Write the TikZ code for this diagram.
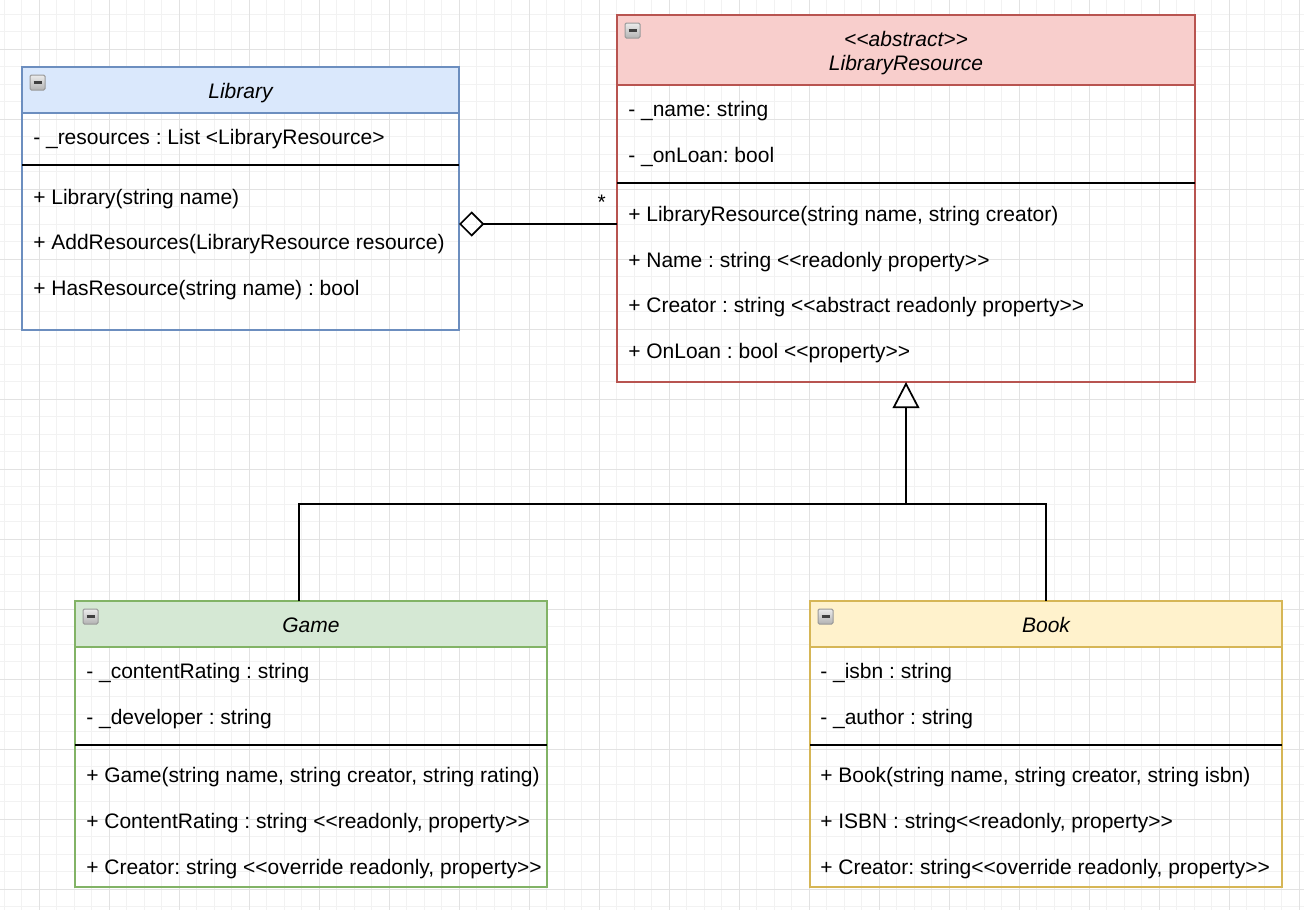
\documentclass[tikz,border=0pt]{standalone}
\usepackage{fontspec}
\setmainfont{Liberation Sans}
\usetikzlibrary{arrows.meta,fit}
\definecolor{libF}{HTML}{DAE8FC}\definecolor{libS}{HTML}{6C8EBF}
\definecolor{resF}{HTML}{F8CECC}\definecolor{resS}{HTML}{B85450}
\definecolor{gamF}{HTML}{D5E8D4}\definecolor{gamS}{HTML}{82B366}
\definecolor{bokF}{HTML}{FFF2CC}\definecolor{bokS}{HTML}{D6B656}
\definecolor{gridminor}{HTML}{F2F2F2}\definecolor{gridmajor}{HTML}{E2E2E2}
\newcommand\dlt{<\kern0pt<}
\newcommand\dgt{>\kern0pt>}
\frenchspacing
\tikzset{
  umlbox/.style={inner sep=0pt, outer sep=0pt, line width=1.3pt},
  hdrline/.style={line width=1.3pt},
  sepline/.style={line width=1.5pt, black},
  member/.style={anchor=west, inner sep=0pt, text height=11.4pt, text depth=0pt,
    font=\fontsize{15.75}{18}\selectfont\frenchspacing},
  title/.style={anchor=center, inner sep=0pt, text height=11.4pt, text depth=0pt,
    font=\fontsize{15.75}{18}\selectfont\itshape},
  conn/.style={line width=1.5pt, black},
  collapse/.pic={
    \shadedraw[top color=gray!15, bottom color=gray!60, draw=gray!80, line width=0.75pt,
      rounded corners=1pt] (0,0) rectangle (15,15);
    \draw[line width=1.8pt, black!75] (3.5,7.5) -- (11.5,7.5);
  }
}
\begin{document}
\begin{tikzpicture}[x=0.75pt,y=-0.75pt]
\useasboundingbox (0,0) rectangle (1304,910);
\fill[white] (0,0) rectangle (1304,910);
% grid
\foreach \i in {0,...,74} \draw[gridminor, line width=0.75pt] (4.3+17.5*\i,0) -- (4.3+17.5*\i,910);
\foreach \i in {0,...,51} \draw[gridminor, line width=0.75pt] (0,14.3+17.5*\i) -- (1304,14.3+17.5*\i);
\foreach \i in {0,...,18} \draw[gridmajor, line width=0.75pt] (39.3+70*\i,0) -- (39.3+70*\i,910);
\foreach \i in {0,...,12} \draw[gridmajor, line width=0.75pt] (0,49.3+70*\i) -- (1304,49.3+70*\i);

% ---------- Library ----------
\fill[libF] (22,67) rectangle (459,113);
\draw[hdrline, libS] (22,113) -- (459,113);
\node[umlbox, draw=libS, fit={(22,67) (459,330)}] (lib) {};
\draw[sepline] (22,165) -- (459,165);
\pic at (30,75) {collapse};
\node[title] (libT) at (240.5,91) {Library};
\node[member] (libA1) at (33,137) {- \_resources : List <LibraryResource>};
\node[member] (libM1) at (33,197) {+ Library(string name)};
\node[member] (libM2) at (33,242) {+ AddResources(LibraryResource resource)};
\node[member] (libM3) at (33,288) {+ HasResource(string name) : bool};

% ---------- LibraryResource ----------
\fill[resF] (617,15) rectangle (1195,85);
\draw[hdrline, resS] (617,85) -- (1195,85);
\node[umlbox, draw=resS, fit={(617,15) (1195,382)}] (res) {};
\draw[sepline] (617,183) -- (1195,183);
\pic at (625,23) {collapse};
\node[title] (resT1) at (906,39) {\dlt abstract\dgt};
\node[title] (resT2) at (906,63) {LibraryResource};
\node[member] (resA1) at (628,109) {- \_name: string};
\node[member] (resA2) at (628,155) {- \_onLoan: bool};
\node[member] (resM1) at (628,214) {+ LibraryResource(string name, string creator)};
\node[member] (resM2) at (628,260) {+ Name : string \dlt readonly property\dgt};
\node[member] (resM3) at (628,305) {+ Creator : string \dlt abstract readonly property\dgt};
\node[member] (resM4) at (628,351) {+ OnLoan : bool \dlt property\dgt};

% ---------- Game ----------
\fill[gamF] (75,601) rectangle (547,647);
\draw[hdrline, gamS] (75,647) -- (547,647);
\node[umlbox, draw=gamS, fit={(75,601) (547,887)}] (game) {};
\draw[sepline] (75,745) -- (547,745);
\pic at (83,609) {collapse};
\node[title] (gameT) at (311,625) {Game};
\node[member] (gameA1) at (86,671) {- \_contentRating : string};
\node[member] (gameA2) at (86,717) {- \_developer : string};
\node[member] (gameM1) at (86,775) {+ Game(string name, string creator, string rating)};
\node[member] (gameM2) at (86,821) {+ ContentRating : string \dlt readonly, property\dgt};
\node[member] (gameM3) at (86,867) {+ Creator: string \dlt override readonly, property\dgt};

% ---------- Book ----------
\fill[bokF] (810,601) rectangle (1282,647);
\draw[hdrline, bokS] (810,647) -- (1282,647);
\node[umlbox, draw=bokS, fit={(810,601) (1282,887)}] (book) {};
\draw[sepline] (810,745) -- (1282,745);
\pic at (818,609) {collapse};
\node[title] (bookT) at (1046,625) {Book};
\node[member] (bookA1) at (820,671) {- \_isbn : string};
\node[member] (bookA2) at (820,717) {- \_author : string};
\node[member] (bookM1) at (820,775) {+ Book(string name, string creator, string isbn)};
\node[member] (bookM2) at (820,821) {+ ISBN : string\dlt readonly, property\dgt};
\node[member] (bookM3) at (820,867) {+ Creator: string\dlt override readonly, property\dgt};

% ---------- connectors ----------
\coordinate (aggY) at (0,224);
\draw[conn, -{Diamond[open, length=19pt, width=19pt, line width=1.3pt]}]
  (res.west |- aggY) -- (lib.east |- aggY);
\node[inner sep=0pt, anchor=base, font=\fontsize{15.75}{18}\selectfont] (mult) at (601.7,209) {*};

\coordinate (junc) at (906,504);
\coordinate (gtop) at (299,601);
\draw[conn] (gtop) |- (junc);
\draw[conn] (book.north) |- (junc);
\draw[conn, -{Triangle[open, length=19.5pt, width=20pt, line width=1.3pt]}] (junc) -- (res.south);
\end{tikzpicture}
\end{document}
